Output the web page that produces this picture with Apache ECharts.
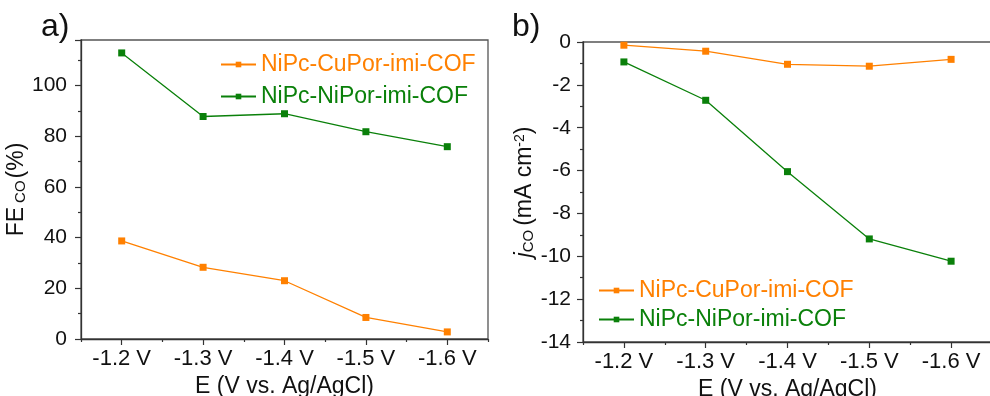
<!DOCTYPE html>
<html>
<head>
<meta charset="utf-8">
<script src="https://cdn.jsdelivr.net/npm/echarts@6/dist/echarts.min.js"></script>
<style>
html,body{margin:0;padding:0;background:#fff;}
#chart{width:990px;height:396px;}
</style>
</head>
<body>
<div id="chart"></div>
<script>
var categories = ['-1.2 V', '-1.3 V', '-1.4 V', '-1.5 V', '-1.6 V'];
var seriesNames = ['NiPc-CuPor-imi-COF', 'NiPc-NiPor-imi-COF'];
var feCu = [38.7, 28.3, 23.0, 8.5, 2.8];
var feNi = [112.9, 87.8, 88.9, 81.8, 75.9];
var jCu = [-0.15, -0.43, -1.04, -1.13, -0.81];
var jNi = [-0.93, -2.72, -6.05, -9.19, -10.23];
var feTicks = {min: 0, max: 118, interval: 20};
var jTicks = {min: -14, max: 0, interval: 2};

var ORANGE = '#FF8000';
var GREEN = '#0A800A';
var AXIS = '#333333';
var FONT = '"Liberation Sans", Arial, sans-serif';

var chart = echarts.init(document.getElementById('chart'), null, {renderer: 'canvas'});

function xAxesFor(gi) {
  return [{
    type: 'category', gridIndex: gi, data: categories, position: 'bottom',
    boundaryGap: true,
    axisLine: {show: true, onZero: false, lineStyle: {color: AXIS, width: 1.3}},
    axisTick: {show: true, alignWithLabel: true, inside: false, length: 6, lineStyle: {color: AXIS, width: 1.2}},
    axisLabel: {show: true, color: '#111', fontFamily: FONT, fontSize: 22, margin: 9},
    splitLine: {show: false},
    name: 'E (V vs. Ag/AgCl)', nameLocation: 'middle', nameGap: 29,
    nameTextStyle: {color: '#111', fontFamily: FONT, fontSize: 23}
  }, {
    type: 'category', gridIndex: gi, data: categories, position: 'bottom',
    boundaryGap: true,
    axisLine: {show: false, onZero: false},
    axisTick: {show: true, alignWithLabel: false, inside: false, length: 3, lineStyle: {color: AXIS, width: 1.2}},
    axisLabel: {show: false},
    splitLine: {show: false}
  }];
}

function yAxisFor(gi, ticks, name, rich, nameGap, margin) {
  return {
    type: 'value', gridIndex: gi, min: ticks.min, max: ticks.max, interval: ticks.interval,
    position: 'left',
    axisLine: {show: true, onZero: false, lineStyle: {color: AXIS, width: 1.3}},
    axisTick: {show: true, inside: false, length: 6, lineStyle: {color: AXIS, width: 1.2}},
    minorTick: {show: true, splitNumber: 2, length: 3, lineStyle: {color: AXIS, width: 1.2}},
    axisLabel: {color: '#111', fontFamily: FONT, fontSize: 21, margin: margin, showMaxLabel: ticks.max % ticks.interval === 0},
    splitLine: {show: false},
    name: name, nameLocation: 'middle', nameGap: nameGap, nameRotate: 90,
    nameTextStyle: {color: '#111', fontFamily: FONT, fontSize: 23, rich: rich}
  };
}

function lineSeries(name, data, color, xi, yi) {
  return {
    type: 'line', name: name, data: data, xAxisIndex: xi, yAxisIndex: yi,
    symbol: 'rect', symbolSize: 7, showSymbol: true,
    lineStyle: {color: color, width: 1.3},
    itemStyle: {color: color},
    emphasis: {disabled: true},
    animation: false, z: 3
  };
}

var richLeft = {
  a: {fontFamily: FONT, fontSize: 23, color: '#111'},
  s: {fontFamily: FONT, fontSize: 15, color: '#111', verticalAlign: 'bottom', padding: [6, 2, 0, 4]}
};
var richRight = {
  i: {fontFamily: FONT, fontSize: 23, color: '#111', fontStyle: 'italic'},
  s: {fontFamily: FONT, fontSize: 15, color: '#111', verticalAlign: 'bottom', padding: [6, 4, 0, 0]},
  a: {fontFamily: FONT, fontSize: 23, color: '#111'},
  p: {fontFamily: FONT, fontSize: 14, color: '#111', verticalAlign: 'top', padding: [0, 0, 10, 0]}
};

var option = {
  backgroundColor: '#ffffff',
  animation: false,
  textStyle: {fontFamily: FONT},
  title: [
    {text: 'a)', left: 36, top: 6, textStyle: {fontFamily: FONT, fontSize: 32, fontWeight: 'normal', color: '#111'}},
    {text: 'b)', left: 507, top: 6, textStyle: {fontFamily: FONT, fontSize: 32, fontWeight: 'normal', color: '#111'}}
  ],
  grid: [
    {left: 81, top: 40, width: 407, height: 299, show: true, borderColor: '#555', borderWidth: 1.3, backgroundColor: 'transparent', containLabel: false, outerBoundsMode: 'none'},
    {left: 583, top: 42, width: 409, height: 300, show: true, borderColor: '#555', borderWidth: 1.3, backgroundColor: 'transparent', containLabel: false, outerBoundsMode: 'none'}
  ],
  legend: [
    {
      orient: 'vertical', left: 215, top: 48, itemWidth: 35, itemHeight: 7, itemGap: 9,
      data: [
        {name: seriesNames[0], textStyle: {color: ORANGE}},
        {name: seriesNames[1], textStyle: {color: GREEN}}
      ],
      textStyle: {fontFamily: FONT, fontSize: 23},
      selectedMode: false
    },
    {
      orient: 'vertical', left: 593, top: 274, itemWidth: 35, itemHeight: 7, itemGap: 6,
      data: [
        {name: seriesNames[0], textStyle: {color: ORANGE}},
        {name: seriesNames[1], textStyle: {color: GREEN}}
      ],
      textStyle: {fontFamily: FONT, fontSize: 23},
      selectedMode: false
    }
  ],
  xAxis: xAxesFor(0).concat(xAxesFor(1)),
  yAxis: [
    yAxisFor(0, feTicks, '{a|FE}{s|CO}{a|(%)}', richLeft, 50, 14),
    yAxisFor(1, jTicks, '{i|j}{s|CO}{a|(mA cm}{p|-2}{a|)}', richRight, 36, 12)
  ],
  series: [
    lineSeries(seriesNames[0], feCu, ORANGE, 0, 0),
    lineSeries(seriesNames[1], feNi, GREEN, 0, 0),
    lineSeries(seriesNames[0], jCu, ORANGE, 2, 1),
    lineSeries(seriesNames[1], jNi, GREEN, 2, 1)
  ]
};
chart.setOption(option);
</script>
</body>
</html>
